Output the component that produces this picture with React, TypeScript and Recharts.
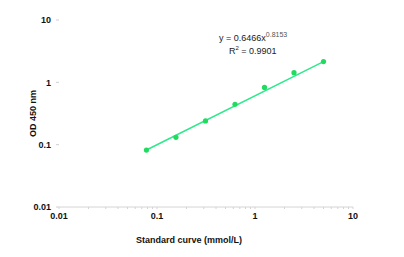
import { ScatterChart, Scatter, XAxis, YAxis, Label } from 'recharts';

// standard concentrations (mmol/L) and measured OD 450
const CONC = [0.078, 0.156, 0.3125, 0.625, 1.25, 2.5, 5];
const OD = [0.082, 0.131, 0.24, 0.445, 0.83, 1.43, 2.15];

// power trendline ends
const TREND_X = [0.078, 5];
const TREND_Y = [0.082, 2.15];

const MAJOR = [0.01, 0.1, 1, 10];
const X_TICKS = [
  0.01, 0.02, 0.03, 0.04, 0.05, 0.06, 0.07, 0.08, 0.09,
  0.1, 0.2, 0.3, 0.4, 0.5, 0.6, 0.7, 0.8, 0.9,
  1, 2, 3, 4, 5, 6, 7, 8, 9, 10,
];

const points = CONC.map((x, i) => ({ x, y: OD[i] }));
const trend = TREND_X.map((x, i) => ({ x, y: TREND_Y[i] }));

const FONT = '"Liberation Sans", Arial, sans-serif';
const tickStyle = { fontSize: 9, fontWeight: 700, fill: '#111', fontFamily: FONT };
const fmt = (v: number) => (MAJOR.includes(v) ? String(v) : '');

export default function App() {
  return (
    <div style={{ position: 'relative', width: 404, height: 257, background: '#fff' }}>
      <style>{'body{margin:0}'}</style>
      <ScatterChart width={404} height={257} margin={{ top: 20, right: 51, left: 0, bottom: 0 }}>
        <XAxis
          type="number"
          dataKey="x"
          scale="log"
          domain={[0.01, 10]}
          allowDataOverflow
          ticks={X_TICKS}
          tickFormatter={fmt}
          interval={0}
          height={50}
          stroke="#d4d4d4"
          tickSize={2}
          tickMargin={4}
          tick={tickStyle}
        >
          <Label
            value="Standard curve (mmol/L)"
            position="insideBottom"
            offset={14}
            dx={-17}
            style={{ fontSize: 9, fontWeight: 700, fill: '#111', fontFamily: FONT }}
          />
        </XAxis>
        <YAxis
          type="number"
          dataKey="y"
          scale="log"
          domain={[0.01, 10]}
          allowDataOverflow
          ticks={MAJOR}
          tickFormatter={(v: number) => String(v)}
          interval={0}
          width={59}
          axisLine={false}
          tickLine={{ stroke: '#cfcfcf' }}
          tickSize={3}
          tickMargin={5}
          tick={tickStyle}
        >
          <Label
            value="OD 450 nm"
            angle={-90}
            position="center"
            dx={3}
            style={{ fontSize: 9, fontWeight: 700, fill: '#111', fontFamily: FONT }}
          />
        </YAxis>
        <Scatter
          data={trend}
          line={{ stroke: '#2ee88c', strokeWidth: 1.5 }}
          shape={() => null}
          isAnimationActive={false}
        />
        <Scatter
          data={points}
          fill="#1fdc5e"
          shape={(p: any) => <circle cx={p.cx} cy={p.cy} r={2.6} fill="#1fdc5e" />}
          isAnimationActive={false}
        />
      </ScatterChart>
      <svg
        width={404}
        height={257}
        style={{ position: 'absolute', left: 0, top: 0, pointerEvents: 'none' }}
      >
        <text x={219} y={41} fontSize={9} fontFamily={FONT} fill="#222">
          y = 0.6466x
          <tspan dy={-4} fontSize={7} fill="#555">0.8153</tspan>
        </text>
        <text x={229} y={54} fontSize={9} fontFamily={FONT} fill="#222">
          R
          <tspan dy={-4} fontSize={6}>2</tspan>
          <tspan dy={4}> = 0.9901</tspan>
        </text>
      </svg>
    </div>
  );
}
